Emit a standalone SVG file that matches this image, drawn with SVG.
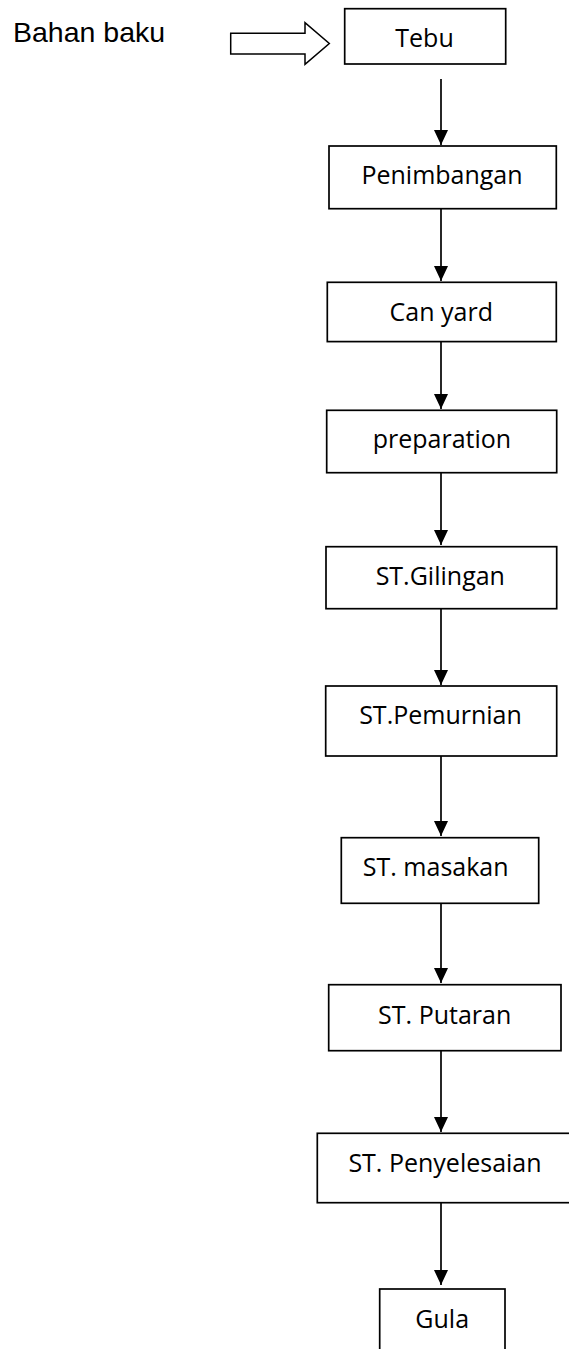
<svg xmlns="http://www.w3.org/2000/svg" width="569" height="1349" viewBox="0 0 569 1349">
<defs>
<style>
.box{fill:#fff;stroke:#000;stroke-width:1.7}
.lbl{font-family:"Open Sans","Noto Sans",sans-serif;font-size:25px;fill:#000;text-anchor:middle}
.con{stroke:#000;stroke-width:1.7;fill:none;marker-end:url(#ah)}
</style>
<marker id="ah" markerUnits="userSpaceOnUse" viewBox="0 0 15 14" refX="15" refY="7" markerWidth="15" markerHeight="14" orient="auto">
<path d="M0,0 L15,7 L0,14 Z" fill="#000"/>
</marker>
</defs>
<rect width="569" height="1349" fill="#fff"/>
<g id="bahan-baku">
<text x="13" y="41.7" font-family="Liberation Sans, Arial, sans-serif" font-size="28.5" fill="#000">Bahan baku</text>
<polygon points="230.7,33.3 305,33.3 305,22.7 329.3,43.5 305,64.3 305,54 230.7,54" fill="#fff" stroke="#000" stroke-width="1.5" stroke-linejoin="miter"/>
</g>
<g id="connectors">
<line class="con" x1="441" y1="79" x2="441" y2="145"/>
<line class="con" x1="441" y1="209" x2="441" y2="281"/>
<line class="con" x1="441" y1="342" x2="441" y2="409"/>
<line class="con" x1="441" y1="473" x2="441" y2="545"/>
<line class="con" x1="441" y1="609" x2="441" y2="685"/>
<line class="con" x1="441" y1="756" x2="441" y2="836"/>
<line class="con" x1="441" y1="903" x2="441" y2="983"/>
<line class="con" x1="441" y1="1051" x2="441" y2="1132"/>
<line class="con" x1="441" y1="1203" x2="441" y2="1285"/>
</g>
<g id="tebu"><rect class="box" x="344.7" y="8.7" width="161" height="55.3"/><text class="lbl" x="424.5" y="46.7">Tebu</text></g>
<g id="penimbangan"><rect class="box" x="329" y="146" width="227.3" height="62.7"/><text class="lbl" x="442" y="184">Penimbangan</text></g>
<g id="can-yard"><rect class="box" x="327.3" y="282.3" width="229" height="59.3"/><text class="lbl" x="441.3" y="320.5">Can yard</text></g>
<g id="preparation"><rect class="box" x="326.7" y="410.3" width="230" height="62.4"/><text class="lbl" x="442" y="448.3">preparation</text></g>
<g id="st-gilingan"><rect class="box" x="326" y="546.7" width="230.7" height="62"/><text class="lbl" x="440.3" y="585">ST.Gilingan</text></g>
<g id="st-pemurnian"><rect class="box" x="325.7" y="686" width="231" height="70"/><text class="lbl" x="440.5" y="724">ST.Pemurnian</text></g>
<g id="st-masakan"><rect class="box" x="341.3" y="837.7" width="197.4" height="65.6"/><text class="lbl" x="435.7" y="875.7">ST. masakan</text></g>
<g id="st-putaran"><rect class="box" x="328.7" y="984.7" width="232.3" height="66"/><text class="lbl" x="444.7" y="1024">ST. Putaran</text></g>
<g id="st-penyelesaian"><rect class="box" x="317.3" y="1133.3" width="260" height="69.4"/><text class="lbl" x="445" y="1171.7">ST. Penyelesaian</text></g>
<g id="gula"><rect class="box" x="379.7" y="1289" width="125.3" height="80"/><text class="lbl" x="442.2" y="1328.3">Gula</text></g>
</svg>
